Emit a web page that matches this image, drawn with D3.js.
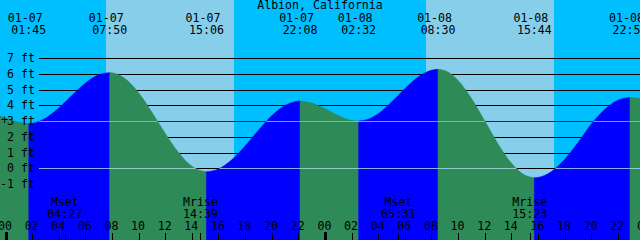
<!DOCTYPE html>
<html><head><meta charset="utf-8">
<script src="https://cdn.jsdelivr.net/npm/d3@7"></script>
<style>
html,body{margin:0;padding:0;background:#fff;}
svg{display:block;}
text{font-family:"DejaVu Sans Mono",monospace;font-size:11.6px;fill:#000;}
</style></head>
<body>
<script>
// ---- data (hours from 01-07 00:00) ----
const title = "Albion, California";
const tideHours = [-1,0,1,1.75,2,3,4,5,6,7,7.833,8,9,10,11,12,13,14,15,15.1,16,17,18,19,20,21,22,22.133,23,24,25,26,26.533,27,28,29,30,31,32,32.5,33,34,35,36,37,38,39,39.733,40,41,42,43,44,45,46,46.917,47,48];
const tideFeet  = [3.5,3.2,2.93,2.85,2.86,3.18,3.82,4.63,5.40,5.93,6.07,6.06,5.68,4.79,3.55,2.21,1.00,0.13,-0.21,-0.22,-0.04,0.54,1.41,2.41,3.33,3.99,4.26,4.27,4.15,3.78,3.34,3.04,3.0,3.05,3.46,4.20,5.05,5.79,6.22,6.28,6.20,5.58,4.44,3.01,1.55,0.33,-0.43,-0.6,-0.58,-0.22,0.56,1.62,2.80,3.72,4.32,4.5,4.49,4.4];
const extremaHours = [1.75,7.833,15.1,22.133,26.533,32.5,39.733,46.917];
const extremaDates = ["01-07","01-07","01-07","01-07","01-08","01-08","01-08","01-08"];
const extremaTimes = ["01:45","07:50","15:06","22:08","02:32","08:30","15:44","22:55"];
const sunriseHours = [7.53,31.57];
const sunsetHours  = [17.17,41.21];
const moonHours  = [4.45,14.65,29.517,39.383];
const moonNames  = ["Mset","Mrise","Mset","Mrise"];
const moonTimes  = ["04:27","14:39","05:31","15:23"];
const feetTicks  = [7,6,5,4,3,2,1,0,-1];
const markFeet   = [3,0];
const hourTicks  = [0,2,4,6,8,10,12,14,16,18,20,22,24,26,28,30,32,34,36,38,40,42,44,46,48];
const hourLabels = ["00","02","04","06","08","10","12","14","16","18","20","22","00","02","04","06","08","10","12","14","16","18","20","22","00"];

const W = 640, H = 240;
const x = d3.scaleLinear().domain([0,48]).range([5.5,644.4]);
const y = d3.scaleLinear().domain([0,7]).range([168.3,58]);

const svg = d3.select("body").append("svg").attr("width",W).attr("height",H);

// background night/day
svg.append("rect").attr("width",W).attr("height",H).attr("fill","#00BFFF");
sunriseHours.forEach((s,i)=>{
  svg.append("rect").attr("x",x(s)).attr("y",0).attr("width",x(sunsetHours[i])-x(s)).attr("height",H)
    .attr("fill","#87CEEB").attr("shape-rendering","crispEdges");
});

// grid lines
svg.append("g").selectAll("line").data(feetTicks).join("line")
  .attr("x1",39).attr("x2",W).attr("y1",d=>Math.round(y(d))+0.5).attr("y2",d=>Math.round(y(d))+0.5)
  .attr("stroke","#000").attr("stroke-width",1).attr("shape-rendering","crispEdges");

// tide areas, split at extrema
const pts = tideHours.map((h,i)=>({h, f: tideFeet[i]}));
const bounds = [tideHours[0], ...extremaHours, tideHours[tideHours.length-1]];
const area = d3.area().x(d=>x(d.h)).y0(H).y1(d=>y(d.f)).curve(d3.curveMonotoneX);
const clip = svg.append("clipPath").attr("id","water");
clip.append("path").datum(pts).attr("d",area);
for (let i=0;i<bounds.length-1;i++){
  const a=bounds[i], b=bounds[i+1];
  const seg = pts.filter(p=>p.h>=a-1e-9 && p.h<=b+1e-9);
  const rising = seg[seg.length-1].f > seg[0].f;
  svg.append("path").datum(seg).attr("d",area)
    .attr("fill", rising ? "#0000FF" : "#2E8B57")
    .attr("stroke", rising ? "#0000FF" : "#2E8B57").attr("stroke-width",0.6);
}

// datum and mean lines over the water
svg.append("g").attr("clip-path","url(#water)").selectAll("line").data(markFeet).join("line")
  .attr("x1",39).attr("x2",W).attr("y1",d=>Math.round(y(d))+0.5).attr("y2",d=>Math.round(y(d))+0.5)
  .attr("stroke","rgba(170,220,235,0.8)").attr("stroke-width",1).attr("shape-rendering","crispEdges");
svg.append("g").selectAll("line").data([3]).join("line")
  .attr("x1",39).attr("x2",W).attr("y1",d=>Math.round(y(d))+0.5).attr("y2",d=>Math.round(y(d))+0.5)
  .attr("stroke","rgba(60,140,150,0.35)").attr("stroke-width",1).attr("shape-rendering","crispEdges");

// y labels
svg.append("g").selectAll("text").data(feetTicks).join("text")
  .attr("x",35).attr("y",d=>y(d)+4).attr("text-anchor","end").text(d=>d+" ft");
svg.append("text").attr("x",4.5).attr("y",y(3)+3).attr("text-anchor","middle").text("+");

// title
svg.append("text").attr("x",320).attr("y",9).attr("text-anchor","middle").text(title);

// tide event labels
const tg = svg.append("g");
extremaHours.forEach((h,i)=>{
  tg.append("text").attr("x",x(h)-3.5).attr("y",21.5).attr("text-anchor","middle").text(extremaDates[i]);
  tg.append("text").attr("x",x(h)).attr("y",33.5).attr("text-anchor","middle").text(extremaTimes[i]);
});

// moon labels
moonHours.forEach((h,i)=>{
  svg.append("text").attr("x",x(h)).attr("y",206).attr("text-anchor","middle").text(moonNames[i]);
  svg.append("text").attr("x",x(h)).attr("y",218).attr("text-anchor","middle").text(moonTimes[i]);
});

// hour axis
const axis = d3.axisBottom(x).tickValues(hourTicks).tickSize(0).tickFormat((d,i)=>hourLabels[i]);
const ag = svg.append("g").attr("transform","translate(-1,221)").call(axis);
ag.select(".domain").remove();
ag.selectAll("text").attr("dy",0).attr("y",9).attr("fill","#000")
  .style("font-family","DejaVu Sans Mono").style("font-size","11.6px");

// ticks
svg.append("g").selectAll("line").data(hourTicks).join("line")
  .attr("x1",d=>Math.round(x(d))+0.5).attr("x2",d=>Math.round(x(d))+0.5)
  .attr("y1",d=>d%24===0?232:233).attr("y2",240)
  .attr("stroke","#000").attr("stroke-width",d=>d%24===0?3:1).attr("shape-rendering","crispEdges");
svg.append("g").selectAll("line").data(moonHours).join("line")
  .attr("x1",d=>Math.round(x(d))+0.5).attr("x2",d=>Math.round(x(d))+0.5)
  .attr("y1",233).attr("y2",240)
  .attr("stroke","#000").attr("stroke-width",1).attr("shape-rendering","crispEdges");
</script>
</body></html>
